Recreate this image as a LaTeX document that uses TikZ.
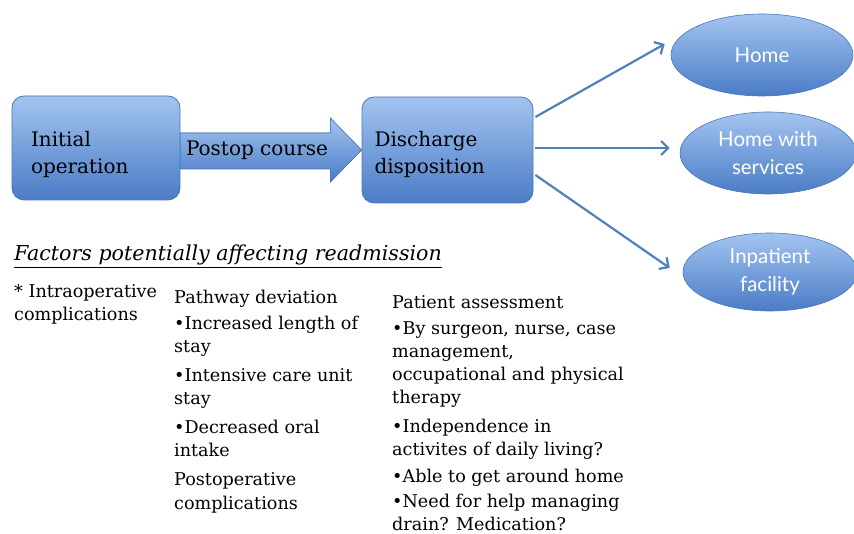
\documentclass[tikz,border=0pt]{standalone}
\usepackage{fontspec}
\setmainfont{DejaVu Serif}
\newfontfamily\ellfont{Lato}
\usetikzlibrary{arrows.meta,shapes.geometric,calc}
\definecolor{bluetop}{HTML}{A3C4F0}
\definecolor{bluebot}{HTML}{4A7CC6}
\definecolor{blueedge}{HTML}{4A78B8}
\definecolor{arrowblue}{HTML}{4F81BD}
\tikzset{
  boxstyle/.style={draw=blueedge, line width=0.8pt, rounded corners=12pt, top color=bluetop, bottom color=bluebot, inner sep=0pt, align=left, font=\fontsize{20}{27}\selectfont},
  ellstyle/.style={ellipse, draw=blueedge, line width=0.6pt, top color=bluetop, bottom color=bluebot, inner sep=0pt, align=center, text=white, font=\ellfont\fontsize{20.5}{28}\selectfont},
  linkarrow/.style={draw=arrowblue, line width=2.2pt, -{Straight Barb[length=7pt,width=14pt,line width=2.2pt]}},
  coltext/.style={anchor=north west, align=left, inner sep=0pt, font=\fontsize{17.6}{23.2}\selectfont},
}
\begin{document}
\begin{tikzpicture}[x=1pt,y=1pt]
\useasboundingbox (0,0) rectangle (854,-534);
\fill[white] (0,0) rectangle (854,-534);
\begin{scope}
\clip (0,0) rectangle (854,-534);
% boxes
\node[boxstyle, minimum width=168pt, minimum height=104pt, text width=130pt] (init) at (96,-148) {\rule{0pt}{28pt}Initial\\operation};
\node[boxstyle, minimum width=171pt, minimum height=106pt, text width=146pt] (disc) at (447.5,-150) {\rule{0pt}{25pt}Discharge\\disposition};
% block arrow
\fill[top color=bluetop, bottom color=bluebot, draw=blueedge, line width=0.6pt]
  ($(init.east)+(0,15)$) -- ($(init.east)+(150,15)$) -- ($(init.east)+(150,30)$) --
  (disc.west) -- ($(init.east)+(150,-34)$) -- ($(init.east)+(150,-21)$) -- ($(init.east)+(0,-21)$) -- cycle;
\node[font=\fontsize{20}{24}\selectfont, inner sep=0pt, anchor=base] (postop) at (257,-156) {Postop course};
% ellipses
\node[ellstyle, minimum width=182pt, minimum height=82pt] (home) at (762,-55) {Home};
\node[ellstyle, minimum width=176pt, minimum height=82pt] (homes) at (768,-153) {Home with\\services};
\node[ellstyle, minimum width=174pt, minimum height=78pt] (inpat) at (770,-272) {Inpatient\\facility};
\end{scope}
% connectors
\draw[linkarrow] ($(disc.east)+(2,33)$) -- ($(home.west)+(-6,11)$);
\draw[linkarrow] ($(disc.east)+(2,2)$) -- ($(homes.west)+(-10,5)$);
\draw[linkarrow] ($(disc.east)+(2,-25)$) -- ($(inpat.west)+(-13,4)$);
% text
\node[anchor=base west, inner sep=0pt, font=\itshape\fontsize{20.6}{26}\selectfont] (factors) at (14,-261) {\underline{Factors potentially affecting readmission}};
\node[coltext] (col1) at (14,-284) {* Intraoperative\\complications};
\node[coltext] (col2) at (174,-290) {Pathway deviation\\[3pt]
\textbullet Increased length of\\stay\\[5pt]
\textbullet Intensive care unit\\stay\\[6pt]
\textbullet Decreased oral\\intake\\[6pt]
Postoperative\\complications};
\node[coltext] (col3) at (392,-295) {Patient assessment\\[3pt]
\textbullet By surgeon, nurse, case\\management,\\
occupational and physical\\therapy\\[5pt]
\textbullet Independence in\\activites of daily living?\\[4pt]
\textbullet Able to get around home\\[2pt]
\textbullet Need for help managing\\drain? Medication?};
\end{tikzpicture}
\end{document}
